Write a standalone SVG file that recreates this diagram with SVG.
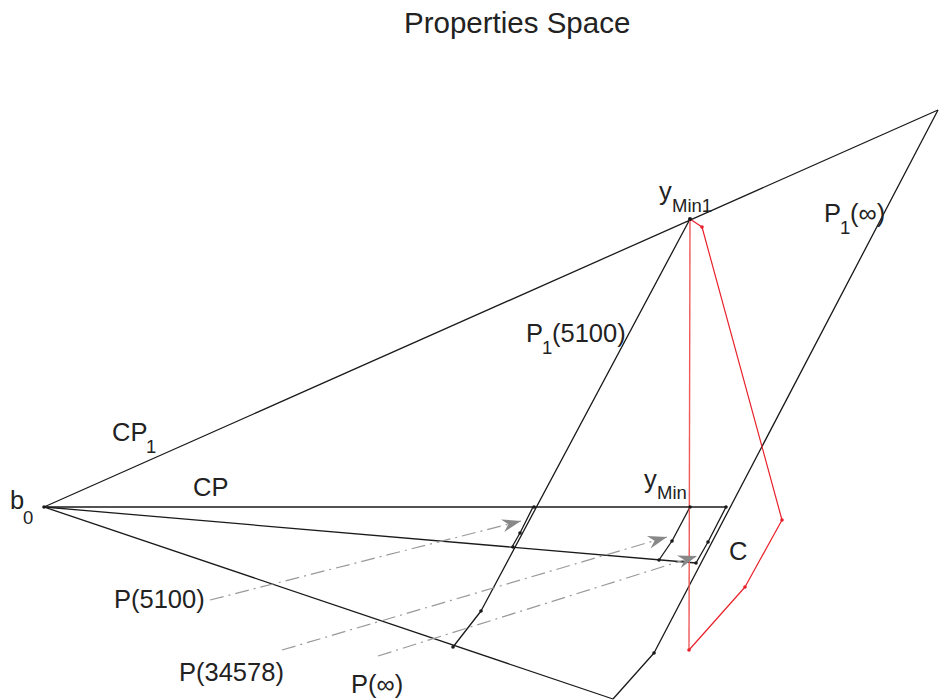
<svg xmlns="http://www.w3.org/2000/svg" width="940" height="700" viewBox="0 0 940 700">
<defs>
<style>
.ln{fill:none;stroke:#1a1a1a;stroke-width:1.3;stroke-linejoin:round}
.red{fill:none;stroke:#e8202a;stroke-width:1.2;stroke-linejoin:round}
.redv{fill:none;stroke:#f05a5a;stroke-width:1.4}
.dd{fill:none;stroke:#999;stroke-width:1.2;stroke-dasharray:14 5 2 5}
.dot{fill:#1a1a1a}
.rdot{fill:#e8202a}
text{font-family:"Liberation Sans",Arial,sans-serif;fill:#222}
.t{font-size:25.5px}
.s{font-size:18.5px}
</style>
<marker id="ah" markerUnits="userSpaceOnUse" markerWidth="24" markerHeight="16" viewBox="-20 -8 22 16" refX="0" refY="0" orient="auto">
<path d="M0,0 L-19,-6.5 L-13,0 L-19,6.5 Z" fill="#888"/>
</marker>
</defs>
<rect width="940" height="700" fill="#fff"/>
<text x="404" y="33" style="font-size:29.5px">Properties Space</text>
<g id="connectors">
<path class="ln" d="M44,507 L938,110"/>
<path class="ln" d="M44,507 L726,507"/>
<path class="ln" d="M44,507 L696,563"/>
<path class="ln" d="M44,507 L613,699"/>
<path class="ln" d="M938,110 L654,653 L613,699"/>
<path class="ln" d="M690,219 L481,611 L453,647"/>
<path class="ln" d="M533,507 L520,533 L512,547"/>
<path class="ln" d="M690,507 L672,541 L659,560"/>
<path class="ln" d="M726,507 L708,542 L696,563"/>
<path class="redv" d="M690,219 L689,650"/>
<path class="red" d="M689,650 L745,587 L782,520 L702,227 L690,219"/>
<path class="dd" d="M210,600 L521,521" marker-end="url(#ah)"/>
<path class="dd" d="M282,650 L667,537" marker-end="url(#ah)"/>
<path class="dd" d="M378,656 L697,556" marker-end="url(#ah)"/>
</g>
<g id="points">
<circle class="dot" cx="44" cy="507" r="1.8"/>
<circle class="dot" cx="690" cy="219" r="2"/>
<circle class="dot" cx="534" cy="507" r="1.8"/>
<circle class="dot" cx="690" cy="507" r="1.8"/>
<circle class="dot" cx="726" cy="507" r="1.8"/>
<circle class="dot" cx="520" cy="533" r="1.8"/>
<circle class="dot" cx="672" cy="541" r="1.8"/>
<circle class="dot" cx="708" cy="542" r="1.8"/>
<circle class="dot" cx="513" cy="547" r="1.8"/>
<circle class="dot" cx="659" cy="560" r="1.8"/>
<circle class="dot" cx="696" cy="563" r="1.8"/>
<circle class="dot" cx="481" cy="611" r="1.8"/>
<circle class="dot" cx="453" cy="647" r="1.8"/>
<circle class="dot" cx="654" cy="653" r="1.8"/>
<circle class="rdot" cx="702" cy="227" r="1.8"/>
<circle class="rdot" cx="782" cy="520" r="1.8"/>
<circle class="rdot" cx="745" cy="587" r="1.8"/>
<circle class="rdot" cx="689" cy="650" r="1.8"/>
</g>
<g id="labels">
<g id="b0"><text class="t" x="10" y="509">b</text><text class="s" x="23" y="524">0</text></g>
<g id="CP1"><text class="t" x="112" y="441">CP</text><text class="s" x="146" y="453">1</text></g>
<g id="CP"><text class="t" x="193" y="496">CP</text></g>
<g id="yMin1"><text class="t" x="659" y="200">y</text><text class="s" x="672" y="212">Min1</text></g>
<g id="yMin"><text class="t" x="644" y="488">y</text><text class="s" x="657" y="499">Min</text></g>
<g id="P1inf"><text class="t" x="824" y="222">P</text><text class="s" x="840" y="234">1</text><text class="t" x="850" y="222">(∞)</text></g>
<g id="P15100"><text class="t" x="526" y="342">P</text><text class="s" x="542" y="354">1</text><text class="t" x="552" y="342">(5100)</text></g>
<g id="C"><text class="t" x="729" y="560">C</text></g>
<g id="P5100"><text class="t" x="114" y="608">P(5100)</text></g>
<g id="P34578"><text class="t" x="179" y="681">P(34578)</text></g>
<g id="Pinf"><text class="t" x="351" y="693">P(∞)</text></g>
</g>
</svg>
